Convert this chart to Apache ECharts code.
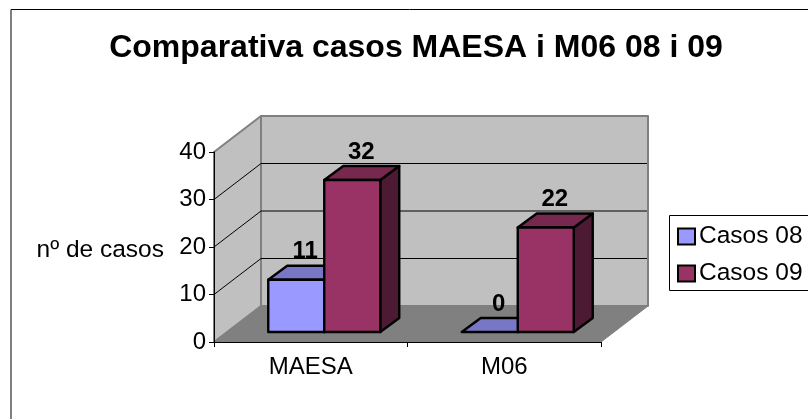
<!DOCTYPE html>
<html><head><meta charset="utf-8">
<style>html,body{margin:0;padding:0;background:#fff;overflow:hidden}#c{width:808px;height:419px}</style>
<script src="https://cdn.jsdelivr.net/npm/echarts@6/dist/echarts.min.js"></script></head>
<body><div id="c"></div>
<script>
const chartTitle = 'Comparativa casos MAESA i M06 08 i 09';
const categories = ['MAESA', 'M06'];
const casos08 = [11, 0];
const casos09 = [32, 22];
const yTicks = [0, 10, 20, 30, 40];
const FONT = '"Liberation Sans", Arial, sans-serif';
const WALL = [47, -36], BAR_DEPTH = [19, -14], BAR_SHIFT = [13.5, -10], BAR_W = 56;

const chart = echarts.init(document.getElementById('c'), null, {renderer: 'canvas'});

function poly(pts, fill, stroke, lw) {
  return {type: 'polygon', shape: {points: pts}, style: {fill, stroke: stroke || 'none', lineWidth: lw || 0, lineJoin: 'round'}};
}
function wallItem(params, api) {
  const v = api.value(0);
  const f = api.coord([0, v]);
  const x0 = params.coordSys.x, x1 = x0 + params.coordSys.width;
  const y = f[1], dx = WALL[0], dy = WALL[1];
  const children = [];
  if (v === 0) {
    const top = api.coord([0, yTicks[yTicks.length - 1]])[1];
    children.push(poly([[x0 + dx, top + dy], [x1 + dx, top + dy], [x1 + dx, y + dy], [x0 + dx, y + dy]], '#C0C0C0', '#808080', 2));
    children.push(poly([[x0, top], [x0 + dx, top + dy], [x0 + dx, y + dy], [x0, y]], '#C0C0C0', '#808080', 2));
    children.push(poly([[x0, y], [x0 + dx, y + dy], [x1 + dx, y + dy], [x1, y]], '#808080', '#808080', 1));
  } else if (v < yTicks[yTicks.length - 1]) {
    children.push({type: 'polyline', shape: {points: [[x0, y], [x0 + dx, y + dy], [x1 + dx - 1, y + dy]]}, style: {fill: 'none', stroke: '#000', lineWidth: 1}});
  }
  return {type: 'group', children};
}
function barRenderer(offsetIndex, front, top, side) {
  return function (params, api) {
    const idx = api.value(0), val = api.value(1);
    const c = api.coord([idx, val]), b = api.coord([idx, 0]);
    const xl = c[0] + BAR_SHIFT[0] + (offsetIndex - 1) * BAR_W, xr = xl + BAR_W;
    const yt = c[1] + BAR_SHIFT[1], yb = b[1] + BAR_SHIFT[1];
    const dx = BAR_DEPTH[0], dy = BAR_DEPTH[1];
    const children = [
      poly([[xr, yt], [xr + dx, yt + dy], [xr + dx, yb + dy], [xr, yb]], side, '#000', 2.4),
      poly([[xl, yt], [xl + dx, yt + dy], [xr + dx, yt + dy], [xr, yt]], top, '#000', 2.4)
    ];
    if (val > 0) children.push(poly([[xl, yt], [xr, yt], [xr, yb], [xl, yb]], front, '#000', 2.4));
    children.push({type: 'text', z2: 20, style: {text: String(val), x: (xl + xr + dx) / 2 - 0.5, y: yt + dy - 2, align: 'center', verticalAlign: 'bottom', fill: '#000', font: 'bold 24px ' + FONT}});
    return {type: 'group', children};
  };
}
chart.setOption({
  animation: false,
  backgroundColor: '#fff',
  title: {text: chartTitle, left: 411, top: 27, textAlign: 'center', textStyle: {fontFamily: FONT, fontWeight: 'bold', fontSize: 32, color: '#000'}},
  grid: {left: 214, right: 207, top: 152, bottom: 77},
  xAxis: {type: 'category', data: categories, z: 5,
    axisLine: {lineStyle: {color: '#000', width: 1}},
    axisTick: {show: true, alignWithLabel: false, length: 5, lineStyle: {color: '#000'}},
    axisLabel: {fontFamily: FONT, fontSize: 24, color: '#000', margin: 13},
    splitLine: {show: false}},
  yAxis: {type: 'value', min: 0, max: 40, interval: 10, z: 5,
    name: 'nº de casos', nameLocation: 'middle', nameRotate: 0, nameGap: 50,
    nameTextStyle: {fontFamily: FONT, fontSize: 24.5, color: '#000', align: 'right', verticalAlign: 'top', lineHeight: 6},
    axisLine: {show: true, lineStyle: {color: '#000', width: 1}},
    axisTick: {show: true, length: 5, lineStyle: {color: '#000'}},
    axisLabel: {fontFamily: FONT, fontSize: 24, color: '#000', margin: 8},
    splitLine: {show: false}},
  legend: {orient: 'vertical', left: 672, top: 219, itemWidth: 17, itemHeight: 16, itemGap: 12, icon: 'rect',
    data: ['Casos 08', 'Casos 09'], selectedMode: false,
    textStyle: {fontFamily: FONT, fontSize: 24.5, color: '#000', padding: [0, 0, 0, -1]}},
  graphic: [
    {type: 'polyline', shape: {points: [[11, 419], [11, 9.5], [808, 9.5]]}, style: {fill: 'none', stroke: '#000', lineWidth: 1}},
    {type: 'rect', shape: {x: 669.5, y: 215.5, width: 150, height: 75}, style: {fill: 'none', stroke: '#000', lineWidth: 1}}
  ],
  series: [
    {type: 'custom', name: 'walls', silent: true, z: 1, clip: false, renderItem: wallItem, encode: {y: 1}, data: yTicks.map(t => [t, t])},
    {type: 'custom', name: 'Casos 08', z: 2, clip: false, renderItem: barRenderer(0, '#9999FF', '#7777C5', '#4d4d80'), itemStyle: {color: '#9999FF', borderColor: '#000', borderWidth: 2}, data: casos08.map((v, i) => [i, v]), encode: {x: 0, y: 1}},
    {type: 'custom', name: 'Casos 09', z: 3, clip: false, renderItem: barRenderer(1, '#993366', '#77284F', '#4D1A33'), itemStyle: {color: '#993366', borderColor: '#000', borderWidth: 2}, data: casos09.map((v, i) => [i, v]), encode: {x: 0, y: 1}}
  ]
});
</script></body></html>
